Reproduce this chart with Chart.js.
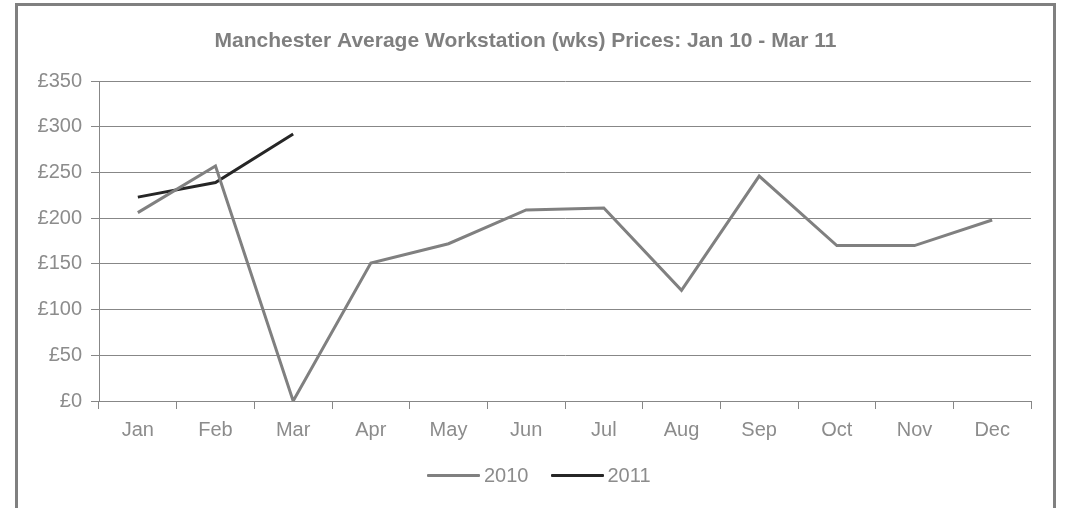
<!DOCTYPE html>
<html>
<head>
<meta charset="utf-8">
<script src="https://cdn.jsdelivr.net/npm/chart.js@4.4.1/dist/chart.umd.min.js"></script>
<style>
  html, body { margin: 0; padding: 0; background: #fff; overflow: hidden; }
  #frame {
    position: absolute; left: 15px; top: 3px; width: 1035px; height: 520px;
    border: 3px solid #808080; border-bottom: none;
  }
  #wrap { position: absolute; left: 0; top: 0; width: 1068px; height: 508px; }
  #leyenda {
    position: absolute; left: 427px; top: 463px; height: 24px;
    display: flex; align-items: center;
    font-family: 'Liberation Sans', Arial, sans-serif; font-size: 20px; color: #8c8c8c;
  }
  #leyenda .item { display: flex; align-items: center; margin-right: 22px; }
  #leyenda .linea { width: 53px; height: 3px; margin-right: 4px; border-radius: 1px; }
</style>
</head>
<body>
<div id="frame"></div>
<div id="wrap"><canvas id="grafico"></canvas></div>
<div id="leyenda"></div>
<script>
// datos
const meses = ["Jan", "Feb", "Mar", "Apr", "May", "Jun", "Jul", "Aug", "Sep", "Oct", "Nov", "Dec"];
const precios2010 = [206, 257, 0, 151, 172, 209, 211, 121, 246, 170, 170, 198];
const precios2011 = [223, 239, 292];
const ticksY = [0, 50, 100, 150, 200, 250, 300, 350];

const gris = "#878787";
const fuente = "'Liberation Sans', Arial, sans-serif";

const ctx = document.getElementById("grafico").getContext("2d");
const chart = new Chart(ctx, {
  type: "line",
  data: {
    labels: meses,
    datasets: [
      {
        label: "2010",
        data: precios2010,
        borderColor: "#808080",
        backgroundColor: "#808080",
        borderWidth: 3,
        pointRadius: 0,
        tension: 0,
      },
      {
        label: "2011",
        data: precios2011,
        borderColor: "#262626",
        backgroundColor: "#262626",
        borderWidth: 3,
        pointRadius: 0,
        tension: 0,
      },
    ],
  },
  options: {
    responsive: true,
    maintainAspectRatio: false,
    animation: false,
    layout: { padding: { left: 20, right: 37, top: 0, bottom: 53 } },
    plugins: {
      title: {
        display: true,
        text: "Manchester Average Workstation (wks) Prices: Jan 10 - Mar 11",
        color: "#7f7f7f",
        font: { family: fuente, size: 21, weight: "bold", lineHeight: 1.2 },
        padding: { top: 29, bottom: 26.8 },
      },
      legend: { display: false },
      tooltip: { enabled: false },
    },
    scales: {
      x: {
        offset: true,
        grid: { offset: true, drawOnChartArea: false, drawTicks: true, tickLength: 8, color: gris },
        border: { display: true, color: gris, width: 1 },
        ticks: { color: "#8c8c8c", font: { family: fuente, size: 20 }, padding: 9, maxRotation: 0 },
        afterFit: (scale) => { scale.height = 54; },
      },
      y: {
        min: 0,
        max: 350,
        afterBuildTicks: (scale) => { scale.ticks = ticksY.map((v) => ({ value: v })); },
        grid: { color: gris, tickLength: 8, drawTicks: true },
        border: { display: true, color: gris, width: 1 },
        ticks: {
          color: "#8c8c8c",
          font: { family: fuente, size: 20 },
          padding: 9,
          callback: (v) => "£" + v,
        },
        afterFit: (scale) => { scale.width = 79; },
      },
    },
  },
});

// leyenda en html para respetar el espaciado del original
const leyenda = document.getElementById("leyenda");
chart.data.datasets.forEach((ds) => {
  const item = document.createElement("div");
  item.className = "item";
  item.innerHTML = `<span class="linea" style="background:${ds.borderColor}"></span><span>${ds.label}</span>`;
  leyenda.appendChild(item);
});
</script>
</body>
</html>
